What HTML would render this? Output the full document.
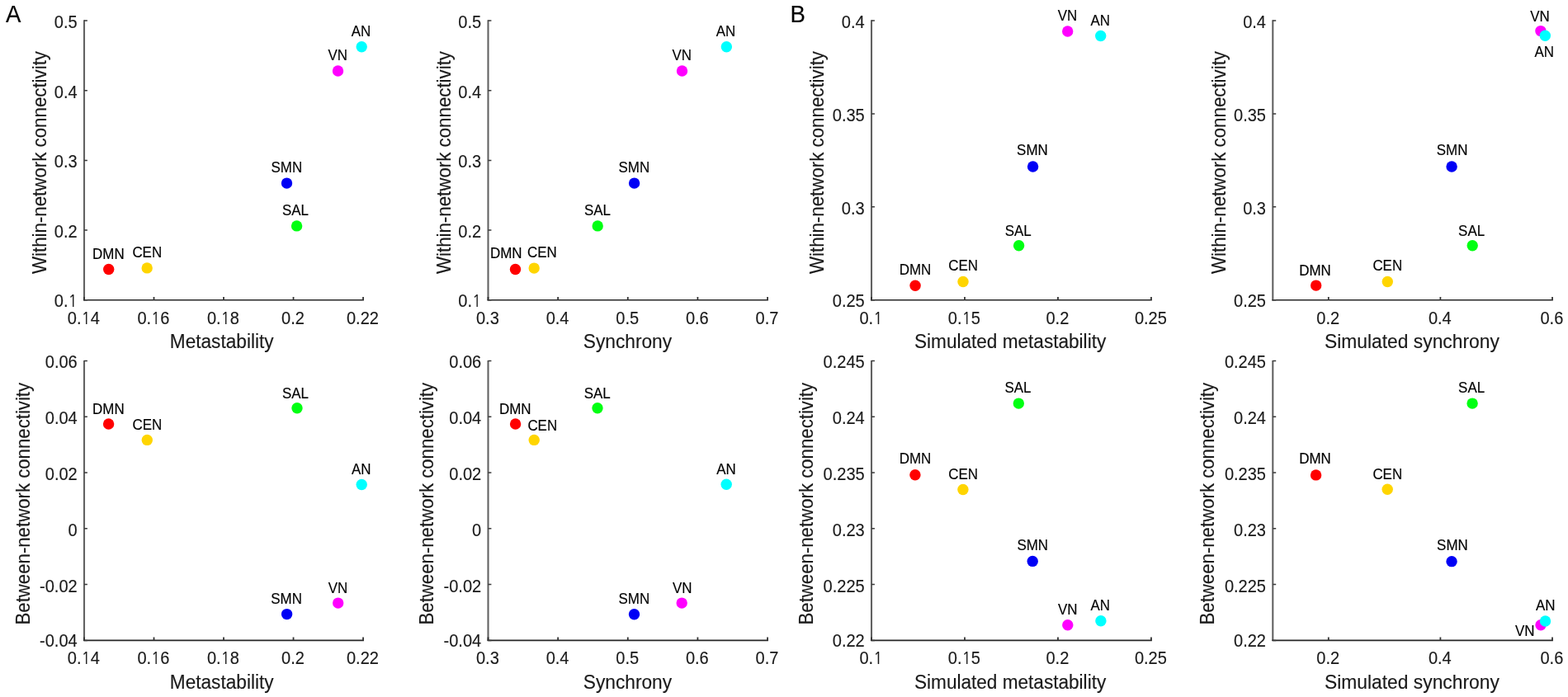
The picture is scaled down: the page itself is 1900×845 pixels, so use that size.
<!DOCTYPE html><html><head><meta charset="utf-8"><title>Figure</title><style>
html,body{margin:0;padding:0;background:#fff;}body{width:1900px;height:845px;overflow:hidden;}
svg{display:block;font-family:"Liberation Sans",Arial,Helvetica,sans-serif;}
text{stroke-width:0.15px;}
.tk{font-size:21.5px;fill:#1a1a1a;stroke:#1a1a1a;}
.lb{font-size:17.9px;fill:#000;stroke:#000;text-anchor:middle;}
.ax{font-size:23.3px;fill:#1a1a1a;stroke:#1a1a1a;text-anchor:middle;}
.one{font-family:NanumGothic,"Liberation Sans",sans-serif;font-size:0.926em;}
.pn{font-size:30px;fill:#000;stroke:#000;}
.av{stroke:#626262;stroke-width:2.1;fill:none;}
.ah{stroke:#262626;stroke-width:1.6;fill:none;}
.tv{stroke:#333;stroke-width:1.8;fill:none;}
.th{stroke:#3a3a3a;stroke-width:1.5;fill:none;}
</style></head><body>
<svg width="1900" height="845" viewBox="0 0 1900 845">
<rect width="1900" height="845" fill="#fff"/>
<path class="av" d="M102 24.35V364.4"/>
<path class="ah" d="M101.1 363.8H440.95"/>
<path class="tv" d="M102 363.8V359.9M186.51 363.8V359.9M271.02 363.8V359.9M355.54 363.8V359.9M440.05 363.8V359.9"/>
<path class="th" d="M102 363.8H105.9M102 279.09H105.9M102 194.38H105.9M102 109.66H105.9M102 24.95H105.9"/>
<text class="tk" transform="translate(101.4 392.7) scale(0.9310 1)" text-anchor="middle">0.<tspan class="one">1</tspan>4</text>
<text class="tk" transform="translate(185.91 392.7) scale(0.9310 1)" text-anchor="middle">0.<tspan class="one">1</tspan>6</text>
<text class="tk" transform="translate(270.42 392.7) scale(0.9310 1)" text-anchor="middle">0.<tspan class="one">1</tspan>8</text>
<text class="tk" transform="translate(354.94 392.7) scale(0.9310 1)" text-anchor="middle">0.2</text>
<text class="tk" transform="translate(439.45 392.7) scale(0.9310 1)" text-anchor="middle">0.22</text>
<text class="tk" transform="translate(93.7 371.6) scale(0.9310 1)" text-anchor="end">0.<tspan class="one">1</tspan></text>
<text class="tk" transform="translate(93.7 287.99) scale(0.9310 1)" text-anchor="end">0.2</text>
<text class="tk" transform="translate(93.7 203.28) scale(0.9310 1)" text-anchor="end">0.3</text>
<text class="tk" transform="translate(93.7 118.56) scale(0.9310 1)" text-anchor="end">0.4</text>
<text class="tk" transform="translate(93.7 33.85) scale(0.9310 1)" text-anchor="end">0.5</text>
<text class="ax" transform="translate(268.69 422.3) scale(0.9715 1)">Metastability</text>
<text class="ax" transform="translate(56.1 197.03) rotate(-90) scale(0.9570 1)">Within-network connectivity</text>
<circle cx="131.7" cy="326.5" r="6.7" fill="#ff0000"/>
<circle cx="178.2" cy="324.9" r="6.7" fill="#ffd500"/>
<circle cx="359.6" cy="273.9" r="6.7" fill="#00ff12"/>
<circle cx="347.5" cy="222.1" r="6.7" fill="#0000f5"/>
<circle cx="409.5" cy="86" r="6.7" fill="#ff00ff"/>
<circle cx="438.2" cy="56.7" r="6.7" fill="#00ffff"/>
<text class="lb" transform="translate(131.35 313.95) scale(0.9470 1)">DMN</text>
<text class="lb" transform="translate(178.26 312.45) scale(0.9470 1)">CEN</text>
<text class="lb" transform="translate(357.9 261.35) scale(0.9470 1)">SAL</text>
<text class="lb" transform="translate(347.31 208.85) scale(0.9470 1)">SMN</text>
<text class="lb" transform="translate(409.25 72.95) scale(0.9470 1)">VN</text>
<text class="lb" transform="translate(437.47 43.65) scale(0.9470 1)">AN</text>
<path class="av" d="M591.5 24.35V364.4"/>
<path class="ah" d="M590.6 363.8H930.95"/>
<path class="tv" d="M591.5 363.8V359.9M676.14 363.8V359.9M760.77 363.8V359.9M845.41 363.8V359.9M930.05 363.8V359.9"/>
<path class="th" d="M591.5 363.8H595.4M591.5 279.09H595.4M591.5 194.38H595.4M591.5 109.66H595.4M591.5 24.95H595.4"/>
<text class="tk" transform="translate(590.9 392.7) scale(0.9310 1)" text-anchor="middle">0.3</text>
<text class="tk" transform="translate(675.54 392.7) scale(0.9310 1)" text-anchor="middle">0.4</text>
<text class="tk" transform="translate(760.17 392.7) scale(0.9310 1)" text-anchor="middle">0.5</text>
<text class="tk" transform="translate(844.81 392.7) scale(0.9310 1)" text-anchor="middle">0.6</text>
<text class="tk" transform="translate(929.45 392.7) scale(0.9310 1)" text-anchor="middle">0.7</text>
<text class="tk" transform="translate(583.2 371.6) scale(0.9310 1)" text-anchor="end">0.<tspan class="one">1</tspan></text>
<text class="tk" transform="translate(583.2 287.99) scale(0.9310 1)" text-anchor="end">0.2</text>
<text class="tk" transform="translate(583.2 203.28) scale(0.9310 1)" text-anchor="end">0.3</text>
<text class="tk" transform="translate(583.2 118.56) scale(0.9310 1)" text-anchor="end">0.4</text>
<text class="tk" transform="translate(583.2 33.85) scale(0.9310 1)" text-anchor="end">0.5</text>
<text class="ax" transform="translate(760.41 422.3) scale(0.9745 1)">Synchrony</text>
<text class="ax" transform="translate(545.5 197.03) rotate(-90) scale(0.9570 1)">Within-network connectivity</text>
<circle cx="624.5" cy="326.5" r="6.7" fill="#ff0000"/>
<circle cx="647.2" cy="325.1" r="6.7" fill="#ffd500"/>
<circle cx="724.2" cy="273.9" r="6.7" fill="#00ff12"/>
<circle cx="768.6" cy="222.1" r="6.7" fill="#0000f5"/>
<circle cx="826.5" cy="86.05" r="6.7" fill="#ff00ff"/>
<circle cx="880.35" cy="56.7" r="6.7" fill="#00ffff"/>
<text class="lb" transform="translate(613.2 313.35) scale(0.9470 1)">DMN</text>
<text class="lb" transform="translate(656.96 312.25) scale(0.9470 1)">CEN</text>
<text class="lb" transform="translate(723.9 261.35) scale(0.9470 1)">SAL</text>
<text class="lb" transform="translate(768.31 208.85) scale(0.9470 1)">SMN</text>
<text class="lb" transform="translate(826.25 73.45) scale(0.9470 1)">VN</text>
<text class="lb" transform="translate(879.47 43.65) scale(0.9470 1)">AN</text>
<path class="av" d="M1056 24.35V364.4"/>
<path class="ah" d="M1055.1 363.8H1395.85"/>
<path class="tv" d="M1056 363.8V359.9M1168.98 363.8V359.9M1281.97 363.8V359.9M1394.95 363.8V359.9"/>
<path class="th" d="M1056 363.8H1059.9M1056 250.85H1059.9M1056 137.9H1059.9M1056 24.95H1059.9"/>
<text class="tk" transform="translate(1055.4 392.7) scale(0.9310 1)" text-anchor="middle">0.<tspan class="one">1</tspan></text>
<text class="tk" transform="translate(1168.38 392.7) scale(0.9310 1)" text-anchor="middle">0.<tspan class="one">1</tspan>5</text>
<text class="tk" transform="translate(1281.37 392.7) scale(0.9310 1)" text-anchor="middle">0.2</text>
<text class="tk" transform="translate(1394.35 392.7) scale(0.9310 1)" text-anchor="middle">0.25</text>
<text class="tk" transform="translate(1047.7 371.6) scale(0.9310 1)" text-anchor="end">0.25</text>
<text class="tk" transform="translate(1047.7 259.75) scale(0.9310 1)" text-anchor="end">0.3</text>
<text class="tk" transform="translate(1047.7 146.8) scale(0.9310 1)" text-anchor="end">0.35</text>
<text class="tk" transform="translate(1047.7 33.85) scale(0.9310 1)" text-anchor="end">0.4</text>
<text class="ax" transform="translate(1224.11 422.3) scale(0.9699 1)">Simulated metastability</text>
<text class="ax" transform="translate(998.2 197.03) rotate(-90) scale(0.9570 1)">Within-network connectivity</text>
<circle cx="1109.05" cy="346.2" r="6.7" fill="#ff0000"/>
<circle cx="1167" cy="341.5" r="6.7" fill="#ffd500"/>
<circle cx="1234.6" cy="297.8" r="6.7" fill="#00ff12"/>
<circle cx="1251.6" cy="201.95" r="6.7" fill="#0000f5"/>
<circle cx="1293.7" cy="38" r="6.7" fill="#ff00ff"/>
<circle cx="1333.7" cy="43.5" r="6.7" fill="#00ffff"/>
<text class="lb" transform="translate(1109 333.35) scale(0.9470 1)">DMN</text>
<text class="lb" transform="translate(1167.06 327.65) scale(0.9470 1)">CEN</text>
<text class="lb" transform="translate(1233.7 285.95) scale(0.9470 1)">SAL</text>
<text class="lb" transform="translate(1250.91 188.35) scale(0.9470 1)">SMN</text>
<text class="lb" transform="translate(1293.55 25.15) scale(0.9470 1)">VN</text>
<text class="lb" transform="translate(1333.17 31.2) scale(0.9470 1)">AN</text>
<path class="av" d="M1542.3 24.35V364.4"/>
<path class="ah" d="M1541.4 363.8H1881.9"/>
<path class="tv" d="M1609.8 363.8V359.9M1745.4 363.8V359.9M1881 363.8V359.9"/>
<path class="th" d="M1542.3 363.8H1546.2M1542.3 250.85H1546.2M1542.3 137.9H1546.2M1542.3 24.95H1546.2"/>
<text class="tk" transform="translate(1609.2 392.7) scale(0.9310 1)" text-anchor="middle">0.2</text>
<text class="tk" transform="translate(1744.8 392.7) scale(0.9310 1)" text-anchor="middle">0.4</text>
<text class="tk" transform="translate(1880.4 392.7) scale(0.9310 1)" text-anchor="middle">0.6</text>
<text class="tk" transform="translate(1534 371.6) scale(0.9310 1)" text-anchor="end">0.25</text>
<text class="tk" transform="translate(1534 259.75) scale(0.9310 1)" text-anchor="end">0.3</text>
<text class="tk" transform="translate(1534 146.8) scale(0.9310 1)" text-anchor="end">0.35</text>
<text class="tk" transform="translate(1534 33.85) scale(0.9310 1)" text-anchor="end">0.4</text>
<text class="ax" transform="translate(1710.9 422.3) scale(0.9806 1)">Simulated synchrony</text>
<text class="ax" transform="translate(1484.5 197.03) rotate(-90) scale(0.9570 1)">Within-network connectivity</text>
<circle cx="1594.7" cy="346.1" r="6.7" fill="#ff0000"/>
<circle cx="1681.3" cy="341.5" r="6.7" fill="#ffd500"/>
<circle cx="1784.2" cy="297.8" r="6.7" fill="#00ff12"/>
<circle cx="1759.1" cy="201.95" r="6.7" fill="#0000f5"/>
<circle cx="1866.9" cy="37.6" r="6.7" fill="#ff00ff"/>
<circle cx="1872.3" cy="43.3" r="6.7" fill="#00ffff"/>
<text class="lb" transform="translate(1593.5 333.65) scale(0.9470 1)">DMN</text>
<text class="lb" transform="translate(1681.26 327.75) scale(0.9470 1)">CEN</text>
<text class="lb" transform="translate(1783.1 285.95) scale(0.9470 1)">SAL</text>
<text class="lb" transform="translate(1759.61 188.35) scale(0.9470 1)">SMN</text>
<text class="lb" transform="translate(1866.05 26.45) scale(0.9470 1)">VN</text>
<text class="lb" transform="translate(1871.27 69.05) scale(0.9470 1)">AN</text>
<path class="av" d="M102 436.9V777"/>
<path class="ah" d="M101.1 776.4H440.95"/>
<path class="tv" d="M102 776.4V772.5M186.51 776.4V772.5M271.02 776.4V772.5M355.54 776.4V772.5M440.05 776.4V772.5"/>
<path class="th" d="M102 776.4H105.9M102 708.62H105.9M102 640.84H105.9M102 573.06H105.9M102 505.28H105.9M102 437.5H105.9"/>
<text class="tk" transform="translate(101.4 805.3) scale(0.9310 1)" text-anchor="middle">0.<tspan class="one">1</tspan>4</text>
<text class="tk" transform="translate(185.91 805.3) scale(0.9310 1)" text-anchor="middle">0.<tspan class="one">1</tspan>6</text>
<text class="tk" transform="translate(270.42 805.3) scale(0.9310 1)" text-anchor="middle">0.<tspan class="one">1</tspan>8</text>
<text class="tk" transform="translate(354.94 805.3) scale(0.9310 1)" text-anchor="middle">0.2</text>
<text class="tk" transform="translate(439.45 805.3) scale(0.9310 1)" text-anchor="middle">0.22</text>
<text class="tk" transform="translate(93.7 784.2) scale(0.9310 1)" text-anchor="end">-0.04</text>
<text class="tk" transform="translate(93.7 717.52) scale(0.9310 1)" text-anchor="end">-0.02</text>
<text class="tk" transform="translate(93.7 649.74) scale(0.9310 1)" text-anchor="end">0</text>
<text class="tk" transform="translate(93.7 581.96) scale(0.9310 1)" text-anchor="end">0.02</text>
<text class="tk" transform="translate(93.7 514.18) scale(0.9310 1)" text-anchor="end">0.04</text>
<text class="tk" transform="translate(93.7 446.4) scale(0.9310 1)" text-anchor="end">0.06</text>
<text class="ax" transform="translate(268.69 834.8) scale(0.9715 1)">Metastability</text>
<text class="ax" transform="translate(35.8 610.69) rotate(-90) scale(0.9528 1)">Between-network connectivity</text>
<circle cx="131.6" cy="513.95" r="6.7" fill="#ff0000"/>
<circle cx="178.3" cy="533.4" r="6.7" fill="#ffd500"/>
<circle cx="360" cy="494.8" r="6.7" fill="#00ff12"/>
<circle cx="347.6" cy="744.6" r="6.7" fill="#0000f5"/>
<circle cx="409.7" cy="731.1" r="6.7" fill="#ff00ff"/>
<circle cx="438.2" cy="587.5" r="6.7" fill="#00ffff"/>
<text class="lb" transform="translate(131.4 501.65) scale(0.9470 1)">DMN</text>
<text class="lb" transform="translate(178.46 521.35) scale(0.9470 1)">CEN</text>
<text class="lb" transform="translate(358 483.45) scale(0.9470 1)">SAL</text>
<text class="lb" transform="translate(347.11 731.95) scale(0.9470 1)">SMN</text>
<text class="lb" transform="translate(409.45 719.15) scale(0.9470 1)">VN</text>
<text class="lb" transform="translate(437.67 575.05) scale(0.9470 1)">AN</text>
<path class="av" d="M591.5 436.9V777"/>
<path class="ah" d="M590.6 776.4H930.95"/>
<path class="tv" d="M591.5 776.4V772.5M676.14 776.4V772.5M760.77 776.4V772.5M845.41 776.4V772.5M930.05 776.4V772.5"/>
<path class="th" d="M591.5 776.4H595.4M591.5 708.62H595.4M591.5 640.84H595.4M591.5 573.06H595.4M591.5 505.28H595.4M591.5 437.5H595.4"/>
<text class="tk" transform="translate(590.9 805.3) scale(0.9310 1)" text-anchor="middle">0.3</text>
<text class="tk" transform="translate(675.54 805.3) scale(0.9310 1)" text-anchor="middle">0.4</text>
<text class="tk" transform="translate(760.17 805.3) scale(0.9310 1)" text-anchor="middle">0.5</text>
<text class="tk" transform="translate(844.81 805.3) scale(0.9310 1)" text-anchor="middle">0.6</text>
<text class="tk" transform="translate(929.45 805.3) scale(0.9310 1)" text-anchor="middle">0.7</text>
<text class="tk" transform="translate(583.2 784.2) scale(0.9310 1)" text-anchor="end">-0.04</text>
<text class="tk" transform="translate(583.2 717.52) scale(0.9310 1)" text-anchor="end">-0.02</text>
<text class="tk" transform="translate(583.2 649.74) scale(0.9310 1)" text-anchor="end">0</text>
<text class="tk" transform="translate(583.2 581.96) scale(0.9310 1)" text-anchor="end">0.02</text>
<text class="tk" transform="translate(583.2 514.18) scale(0.9310 1)" text-anchor="end">0.04</text>
<text class="tk" transform="translate(583.2 446.4) scale(0.9310 1)" text-anchor="end">0.06</text>
<text class="ax" transform="translate(760.41 834.8) scale(0.9745 1)">Synchrony</text>
<text class="ax" transform="translate(525.4 610.69) rotate(-90) scale(0.9528 1)">Between-network connectivity</text>
<circle cx="624.6" cy="514.05" r="6.7" fill="#ff0000"/>
<circle cx="647.2" cy="533.4" r="6.7" fill="#ffd500"/>
<circle cx="724" cy="494.8" r="6.7" fill="#00ff12"/>
<circle cx="768.5" cy="744.8" r="6.7" fill="#0000f5"/>
<circle cx="826.2" cy="731.1" r="6.7" fill="#ff00ff"/>
<circle cx="880.2" cy="587.3" r="6.7" fill="#00ffff"/>
<text class="lb" transform="translate(624.3 501.65) scale(0.9470 1)">DMN</text>
<text class="lb" transform="translate(657.26 521.55) scale(0.9470 1)">CEN</text>
<text class="lb" transform="translate(723.7 483.35) scale(0.9470 1)">SAL</text>
<text class="lb" transform="translate(768.31 732.15) scale(0.9470 1)">SMN</text>
<text class="lb" transform="translate(826.65 718.95) scale(0.9470 1)">VN</text>
<text class="lb" transform="translate(879.97 574.85) scale(0.9470 1)">AN</text>
<path class="av" d="M1056 436.9V777"/>
<path class="ah" d="M1055.1 776.4H1395.85"/>
<path class="tv" d="M1056 776.4V772.5M1168.98 776.4V772.5M1281.97 776.4V772.5M1394.95 776.4V772.5"/>
<path class="th" d="M1056 776.4H1059.9M1056 708.62H1059.9M1056 640.84H1059.9M1056 573.06H1059.9M1056 505.28H1059.9M1056 437.5H1059.9"/>
<text class="tk" transform="translate(1055.4 805.3) scale(0.9310 1)" text-anchor="middle">0.<tspan class="one">1</tspan></text>
<text class="tk" transform="translate(1168.38 805.3) scale(0.9310 1)" text-anchor="middle">0.<tspan class="one">1</tspan>5</text>
<text class="tk" transform="translate(1281.37 805.3) scale(0.9310 1)" text-anchor="middle">0.2</text>
<text class="tk" transform="translate(1394.35 805.3) scale(0.9310 1)" text-anchor="middle">0.25</text>
<text class="tk" transform="translate(1047.7 784.2) scale(0.9310 1)" text-anchor="end">0.22</text>
<text class="tk" transform="translate(1047.7 717.52) scale(0.9310 1)" text-anchor="end">0.225</text>
<text class="tk" transform="translate(1047.7 649.74) scale(0.9310 1)" text-anchor="end">0.23</text>
<text class="tk" transform="translate(1047.7 581.96) scale(0.9310 1)" text-anchor="end">0.235</text>
<text class="tk" transform="translate(1047.7 514.18) scale(0.9310 1)" text-anchor="end">0.24</text>
<text class="tk" transform="translate(1047.7 446.4) scale(0.9310 1)" text-anchor="end">0.245</text>
<text class="ax" transform="translate(1224.11 834.8) scale(0.9699 1)">Simulated metastability</text>
<text class="ax" transform="translate(985.4 610.69) rotate(-90) scale(0.9528 1)">Between-network connectivity</text>
<circle cx="1108.9" cy="575.8" r="6.7" fill="#ff0000"/>
<circle cx="1166.9" cy="593.5" r="6.7" fill="#ffd500"/>
<circle cx="1234.3" cy="489.1" r="6.7" fill="#00ff12"/>
<circle cx="1251.2" cy="680.4" r="6.7" fill="#0000f5"/>
<circle cx="1293.8" cy="757.8" r="6.7" fill="#ff00ff"/>
<circle cx="1333.9" cy="752.8" r="6.7" fill="#00ffff"/>
<text class="lb" transform="translate(1109 562.25) scale(0.9470 1)">DMN</text>
<text class="lb" transform="translate(1167.16 580.65) scale(0.9470 1)">CEN</text>
<text class="lb" transform="translate(1233.4 475.95) scale(0.9470 1)">SAL</text>
<text class="lb" transform="translate(1251.21 666.75) scale(0.9470 1)">SMN</text>
<text class="lb" transform="translate(1293.75 744.65) scale(0.9470 1)">VN</text>
<text class="lb" transform="translate(1333.17 740.15) scale(0.9470 1)">AN</text>
<path class="av" d="M1542.3 436.9V777"/>
<path class="ah" d="M1541.4 776.4H1881.9"/>
<path class="tv" d="M1609.8 776.4V772.5M1745.4 776.4V772.5M1881 776.4V772.5"/>
<path class="th" d="M1542.3 776.4H1546.2M1542.3 708.62H1546.2M1542.3 640.84H1546.2M1542.3 573.06H1546.2M1542.3 505.28H1546.2M1542.3 437.5H1546.2"/>
<text class="tk" transform="translate(1609.2 805.3) scale(0.9310 1)" text-anchor="middle">0.2</text>
<text class="tk" transform="translate(1744.8 805.3) scale(0.9310 1)" text-anchor="middle">0.4</text>
<text class="tk" transform="translate(1880.4 805.3) scale(0.9310 1)" text-anchor="middle">0.6</text>
<text class="tk" transform="translate(1534 784.2) scale(0.9310 1)" text-anchor="end">0.22</text>
<text class="tk" transform="translate(1534 717.52) scale(0.9310 1)" text-anchor="end">0.225</text>
<text class="tk" transform="translate(1534 649.74) scale(0.9310 1)" text-anchor="end">0.23</text>
<text class="tk" transform="translate(1534 581.96) scale(0.9310 1)" text-anchor="end">0.235</text>
<text class="tk" transform="translate(1534 514.18) scale(0.9310 1)" text-anchor="end">0.24</text>
<text class="tk" transform="translate(1534 446.4) scale(0.9310 1)" text-anchor="end">0.245</text>
<text class="ax" transform="translate(1710.9 834.8) scale(0.9806 1)">Simulated synchrony</text>
<text class="ax" transform="translate(1470.6 610.69) rotate(-90) scale(0.9528 1)">Between-network connectivity</text>
<circle cx="1594.6" cy="575.9" r="6.7" fill="#ff0000"/>
<circle cx="1681.2" cy="593.2" r="6.7" fill="#ffd500"/>
<circle cx="1784.1" cy="489.1" r="6.7" fill="#00ff12"/>
<circle cx="1759.05" cy="680.65" r="6.7" fill="#0000f5"/>
<circle cx="1867" cy="757.8" r="6.7" fill="#ff00ff"/>
<circle cx="1872.5" cy="753" r="6.7" fill="#00ffff"/>
<text class="lb" transform="translate(1593.5 562.05) scale(0.9470 1)">DMN</text>
<text class="lb" transform="translate(1681.26 580.65) scale(0.9470 1)">CEN</text>
<text class="lb" transform="translate(1783.1 475.95) scale(0.9470 1)">SAL</text>
<text class="lb" transform="translate(1759.91 666.95) scale(0.9470 1)">SMN</text>
<text class="lb" transform="translate(1847.65 771.05) scale(0.9470 1)">VN</text>
<text class="lb" transform="translate(1872.67 740.35) scale(0.9470 1)">AN</text>
<text class="pn" transform="translate(6.9 26.6) scale(0.9200 1)">A</text>
<text class="pn" transform="translate(957.6 26.6) scale(0.9200 1)">B</text>
</svg></body></html>
